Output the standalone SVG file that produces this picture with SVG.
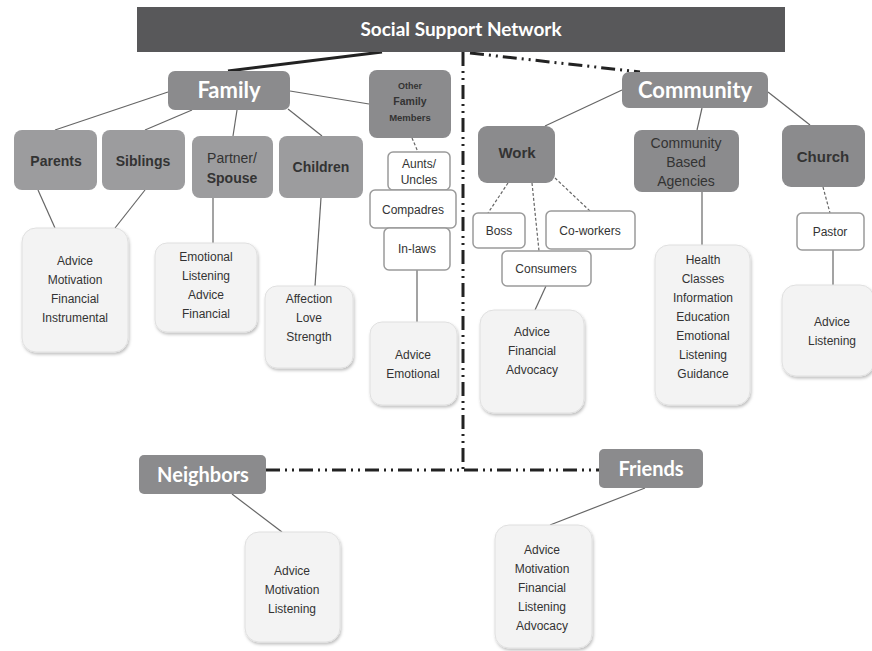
<svg xmlns="http://www.w3.org/2000/svg" width="872" height="651" viewBox="0 0 872 651">
<defs>
<filter id="sh" x="-10%" y="-10%" width="130%" height="130%">
<feDropShadow dx="1" dy="2" stdDeviation="1.5" flood-color="#000" flood-opacity="0.25"/>
</filter>
</defs>
<style>
.title{fill:#58585a}
.head{fill:#8b8b8d}
.sub{fill:#9c9c9e}
.wb{fill:#fff;stroke:#9a9a9a;stroke-width:1.5}
.attr{fill:#f3f3f3;stroke:#e0e0e0;stroke-width:1;filter:url(#sh)}
.ht{font-family:Lato,"Open Sans",sans-serif;font-weight:bold;fill:#fff;text-anchor:middle}
.st{font-family:"Liberation Sans",Arial,sans-serif;font-weight:bold;fill:#333;text-anchor:middle}
.nw{font-weight:normal}
.at{font-family:"Liberation Sans",Arial,sans-serif;font-size:12px;fill:#333;text-anchor:middle}
.ln{stroke:#666;stroke-width:1.2;fill:none}
.dt{stroke:#666;stroke-width:1.2;fill:none;stroke-dasharray:3 2}
.dd{stroke:#222;stroke-width:3;fill:none;stroke-dasharray:14 5 2 5 2 5}
</style>
<g id="connectors">
<line x1="382" y1="52" x2="228" y2="71" stroke="#222" stroke-width="3"/>
<line class="dd" x1="470" y1="53" x2="640" y2="72"/>
<line class="dd" x1="463" y1="52" x2="463" y2="470"/>
<line class="dd" x1="266" y1="470" x2="599" y2="470"/>
<line class="ln" x1="168" y1="92" x2="55" y2="130"/>
<line class="ln" x1="192" y1="110" x2="145" y2="130"/>
<line class="ln" x1="237" y1="110" x2="233" y2="136"/>
<line class="ln" x1="288" y1="109" x2="322" y2="136"/>
<line class="ln" x1="290" y1="91" x2="369" y2="104"/>
<line class="dt" x1="412" y1="138" x2="418" y2="152"/>
<line class="ln" x1="38" y1="190" x2="55" y2="228"/>
<line class="ln" x1="145" y1="190" x2="115" y2="228"/>
<line class="ln" x1="213" y1="198" x2="213" y2="243"/>
<line class="ln" x1="321" y1="198" x2="315" y2="286"/>
<line class="ln" x1="417" y1="270" x2="417" y2="322"/>
<line class="ln" x1="622" y1="90" x2="545" y2="126"/>
<line class="ln" x1="702" y1="108" x2="697" y2="130"/>
<line class="ln" x1="768" y1="92" x2="810" y2="125"/>
<line class="dt" x1="508" y1="183" x2="488" y2="213"/>
<line class="dt" x1="532" y1="183" x2="539" y2="251"/>
<line class="dt" x1="555" y1="178" x2="590" y2="211"/>
<line class="ln" x1="546" y1="286" x2="535" y2="310"/>
<line class="ln" x1="702" y1="192" x2="702" y2="245"/>
<line class="dt" x1="823" y1="187" x2="830" y2="213"/>
<line class="ln" x1="833" y1="250" x2="833" y2="285"/>
<line class="ln" x1="232" y1="494" x2="282" y2="532"/>
<line class="ln" x1="645" y1="488" x2="550" y2="525"/>
</g>
<g id="title"><rect class="title" x="137" y="7" width="648" height="45"/><text class="ht" x="461" y="36" font-size="19">Social Support Network</text></g>
<g id="family"><rect class="head" x="168" y="71" width="122" height="39" rx="7"/><text class="ht" x="229" y="98" font-size="22">Family</text></g>
<g id="other"><rect class="head" x="369" y="70" width="82" height="68" rx="8"/>
<text class="st" x="410" y="89" font-size="9">Other</text><text class="st" x="410" y="105" font-size="10.5">Family</text><text class="st" x="410" y="121" font-size="9.5">Members</text></g>
<g id="community"><rect class="head" x="622" y="72" width="146" height="36" rx="7"/><text class="ht" x="695" y="98" font-size="22">Community</text></g>
<g id="parents"><rect class="sub" x="14" y="130" width="83" height="60" rx="8"/><text class="st" x="56" y="166" font-size="14">Parents</text></g>
<g id="siblings"><rect class="sub" x="102" y="130" width="83" height="60" rx="8"/><text class="st" x="143" y="166" font-size="14">Siblings</text></g>
<g id="partner"><rect class="sub" x="192" y="136" width="81" height="62" rx="8"/><text class="st nw" x="232" y="163" font-size="14">Partner/</text><text class="st" x="232" y="183" font-size="14">Spouse</text></g>
<g id="children"><rect class="sub" x="279" y="136" width="84" height="62" rx="8"/><text class="st" x="321" y="172" font-size="14">Children</text></g>
<g id="aunts"><rect class="wb" x="388" y="152" width="62" height="38" rx="5"/><text class="at" x="419" y="168" font-size="11">Aunts/</text><text class="at" x="419" y="184" font-size="11">Uncles</text></g>
<g id="compadres"><rect class="wb" x="370" y="190" width="86" height="38" rx="5"/><text class="at" x="413" y="214">Compadres</text></g>
<g id="inlaws"><rect class="wb" x="384" y="228" width="66" height="42" rx="5"/><text class="at" x="417" y="253">In-laws</text></g>
<g id="parents-attr"><rect class="attr" x="22" y="228" width="106" height="124" rx="14"/>
<text class="at" x="75" y="265">Advice</text><text class="at" x="75" y="284">Motivation</text><text class="at" x="75" y="303">Financial</text><text class="at" x="75" y="322">Instrumental</text></g>
<g id="partner-attr"><rect class="attr" x="155" y="243" width="102" height="89" rx="12"/>
<text class="at" x="206" y="261">Emotional</text><text class="at" x="206" y="280">Listening</text><text class="at" x="206" y="299">Advice</text><text class="at" x="206" y="318">Financial</text></g>
<g id="children-attr"><rect class="attr" x="265" y="286" width="88" height="82" rx="12"/>
<text class="at" x="309" y="303">Affection</text><text class="at" x="309" y="322">Love</text><text class="at" x="309" y="341">Strength</text></g>
<g id="other-attr"><rect class="attr" x="370" y="322" width="87" height="83" rx="12"/>
<text class="at" x="413" y="359">Advice</text><text class="at" x="413" y="378">Emotional</text></g>
<g id="work"><rect class="head" x="478" y="126" width="77" height="57" rx="9"/><text class="st" x="517" y="158" font-size="15">Work</text></g>
<g id="cba"><rect class="head" x="634" y="130" width="105" height="62" rx="8"/><text class="st nw" x="686" y="148" font-size="14">Community</text><text class="st nw" x="686" y="167" font-size="14">Based</text><text class="st nw" x="686" y="186" font-size="14">Agencies</text></g>
<g id="church"><rect class="head" x="782" y="125" width="83" height="62" rx="9"/><text class="st" x="823" y="162" font-size="15">Church</text></g>
<g id="boss"><rect class="wb" x="473" y="213" width="52" height="35" rx="5"/><text class="at" x="499" y="235">Boss</text></g>
<g id="coworkers"><rect class="wb" x="546" y="211" width="89" height="38" rx="5"/><text class="at" x="590" y="235">Co-workers</text></g>
<g id="consumers"><rect class="wb" x="502" y="251" width="89" height="35" rx="5"/><text class="at" x="546" y="273">Consumers</text></g>
<g id="work-attr"><rect class="attr" x="480" y="310" width="104" height="103" rx="14"/>
<text class="at" x="532" y="336">Advice</text><text class="at" x="532" y="355">Financial</text><text class="at" x="532" y="374">Advocacy</text></g>
<g id="cba-attr"><rect class="attr" x="655" y="245" width="95" height="160" rx="14"/>
<text class="at" x="703" y="264">Health</text><text class="at" x="703" y="283">Classes</text><text class="at" x="703" y="302">Information</text><text class="at" x="703" y="321">Education</text><text class="at" x="703" y="340">Emotional</text><text class="at" x="703" y="359">Listening</text><text class="at" x="703" y="378">Guidance</text></g>
<g id="pastor"><rect class="wb" x="797" y="213" width="67" height="37" rx="5"/><text class="at" x="830" y="236">Pastor</text></g>
<g id="church-attr"><rect class="attr" x="782" y="285" width="92" height="91" rx="14"/>
<text class="at" x="832" y="326">Advice</text><text class="at" x="832" y="345">Listening</text></g>
<g id="neighbors"><rect class="head" x="139" y="455" width="127" height="39" rx="5"/><text class="ht" x="203" y="482" font-size="20">Neighbors</text></g>
<g id="friends"><rect class="head" x="599" y="449" width="104" height="39" rx="5"/><text class="ht" x="651" y="476" font-size="20">Friends</text></g>
<g id="neighbors-attr"><rect class="attr" x="245" y="532" width="95" height="110" rx="14"/>
<text class="at" x="292" y="575">Advice</text><text class="at" x="292" y="594">Motivation</text><text class="at" x="292" y="613">Listening</text></g>
<g id="friends-attr"><rect class="attr" x="495" y="525" width="97" height="123" rx="14"/>
<text class="at" x="542" y="554">Advice</text><text class="at" x="542" y="573">Motivation</text><text class="at" x="542" y="592">Financial</text><text class="at" x="542" y="611">Listening</text><text class="at" x="542" y="630">Advocacy</text></g>
</svg>
